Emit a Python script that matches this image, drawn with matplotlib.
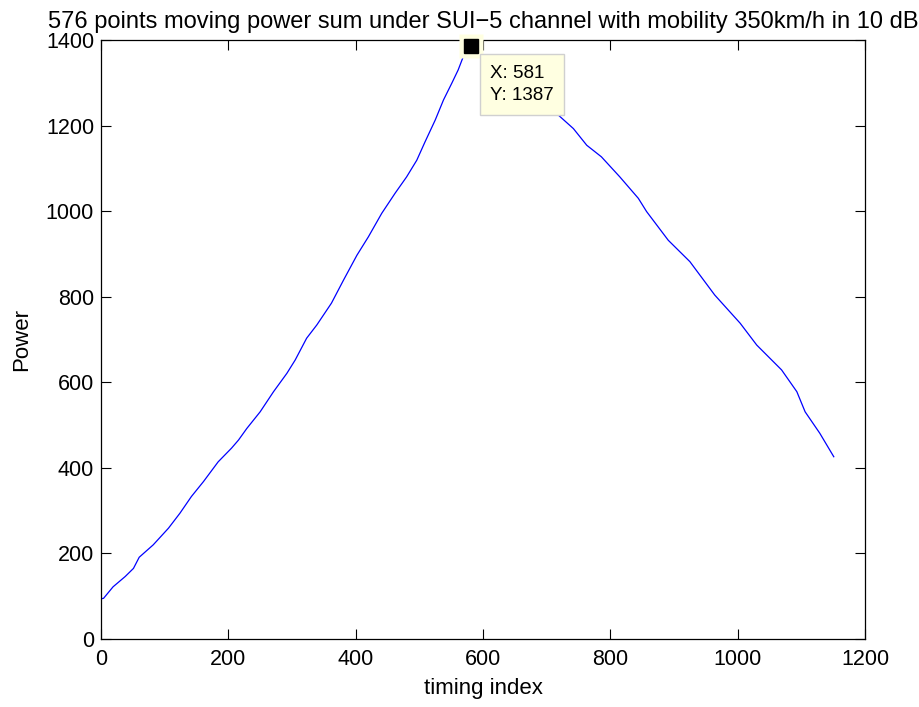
#! /usr/bin/python3

import matplotlib
matplotlib.use('Agg')
import matplotlib.pyplot as plt

# moving power sum (timing index, power)
timing_index = [0, 4, 19, 38, 51, 60, 82, 106, 124, 142, 161, 184, 205, 216,
                229, 250, 271, 292, 305, 323, 339, 362, 381, 402, 420, 441,
                462, 480, 496, 509, 525, 538, 551, 561, 569, 581,
                600, 650, 690, 718, 742, 763, 786, 815, 844, 857, 891, 925,
                964, 1004, 1030, 1069, 1093, 1106, 1129, 1151]
power = [94, 95, 122, 146, 165, 191, 220, 259, 294, 333, 368, 414, 446, 465,
         492, 531, 578, 621, 652, 703, 734, 785, 839, 897, 940, 995,
         1042, 1080, 1119, 1162, 1213, 1260, 1299, 1330, 1361, 1387,
         1362, 1300, 1258, 1225, 1193, 1154, 1127, 1080, 1030, 999, 932, 882,
         804, 738, 687, 629, 578, 531, 481, 426]

# data cursor
peak_x = 581
peak_y = 1387

x_ticks = [0, 200, 400, 600, 800, 1000, 1200]
y_ticks = [0, 200, 400, 600, 800, 1000, 1200, 1400]

plt.rcParams['font.family'] = ['Liberation Sans', 'DejaVu Sans']

fig = plt.figure(figsize=(9.19, 7.07), dpi=100)
ax = fig.add_axes([0.1099, 0.0962, 0.8313, 0.8472])

ax.plot(timing_index, power, color='#0000ff', linewidth=0.9, zorder=2)

# datatip marker and box
ax.plot([peak_x], [peak_y], marker='s', markersize=17, color='#ffffe1',
        markeredgecolor='none', zorder=4, clip_on=False)
ax.plot([peak_x], [peak_y], marker='s', markersize=10, color='black',
        markeredgecolor='black', zorder=5, clip_on=False)
ax.annotate('X: %d\nY: %d' % (peak_x, peak_y), xy=(peak_x, peak_y),
            xycoords='data', xytext=(19, -19), textcoords='offset pixels',
            ha='left', va='top', fontsize=13.5, linespacing=1.45,
            bbox=dict(boxstyle='square,pad=0.55', facecolor='#ffffe1',
                      edgecolor='#d0d0d0', linewidth=1.0),
            zorder=6)

ax.set_xlim(0, 1200)
ax.set_ylim(0, 1400)
ax.set_xticks(x_ticks)
ax.set_yticks(y_ticks)
ax.tick_params(direction='in', length=7, width=0.8, labelsize=15.5,
               top=True, right=True, pad=5)
ax.tick_params(axis='x', pad=7)
for spine in ax.spines.values():
    spine.set_linewidth(0.9)

ax.set_xlabel('timing index', fontsize=16, labelpad=6)
ax.set_ylabel('Power', fontsize=16, labelpad=10)
ax.set_title('576 points moving power sum under SUI\u22125 channel with mobility 350km/h in 10 dB',
             fontsize=17, pad=9)

fig.savefig('out.png', dpi=100)
